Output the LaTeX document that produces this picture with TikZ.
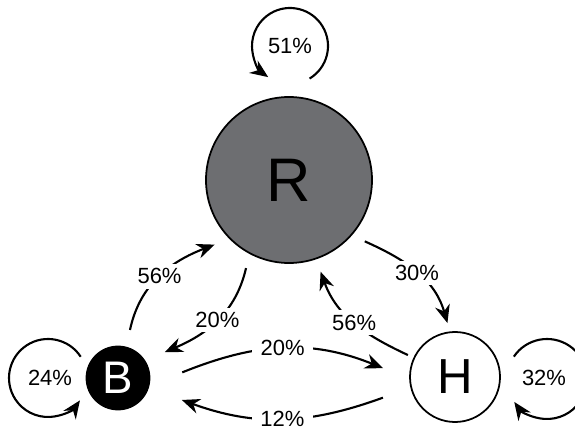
\documentclass[tikz,border=0pt]{standalone}
\usepackage{fontspec}
\setmainfont{Liberation Sans}
\usetikzlibrary{arrows.meta,calc}
\definecolor{stgray}{HTML}{6D6E71}

\begin{document}
\begin{tikzpicture}[
  state/.style={circle,draw=black,line width=1pt,inner sep=0pt},
  pct/.style={fill=white,inner xsep=5pt,inner ysep=2.5pt,font=\fontsize{12.5}{14}\selectfont},
  edge/.style={line width=1.2pt,-{Stealth[length=3.6mm,width=3mm]}}
]
\useasboundingbox (0,0) rectangle (11.5,8.58);

% ---- States -------------------------------------------------
\node[state,fill=stgray,minimum size=3.32cm,font=\fontsize{35}{36}\selectfont] (R) at (5.78,4.98) {R};
\node[state,fill=black,text=white,minimum size=1.26cm,font=\fontsize{26}{28}\selectfont] (B) at (2.36,1.02) {B};
\node[state,fill=white,minimum size=1.80cm,font=\fontsize{28}{30}\selectfont] (H) at (9.10,1.04) {H};

% ---- Self loops ---------------------------------------------
\node[pct] (l51) at (5.80,7.66) {51\%};
\draw[edge] ($(l51)+(-59:0.76)$) arc[start angle=-59,end angle=235,radius=0.76];

\node[pct] (l24) at (1.00,1.02) {24\%};
\draw[edge] ($(l24)+(-0.04,0)+(33:0.78)$) arc[start angle=33,end angle=325,radius=0.78];

\node[pct] (l32) at (10.88,1.02) {32\%};
\draw[edge] ($(l32)+(0.06,-0.02)+(146:0.8)$) arc[start angle=146,end angle=-145,radius=0.8];

% ---- Transitions --------------------------------------------
\draw[edge] ($(B)+(76:0.99)$) to[out=78,in=201] node[pct] {56\%} ($(R)+(221:1.97)$);
\draw[edge] ($(R)+(244:1.96)$) to[out=257,in=23] node[pct] {20\%} ($(B)+(29:1.07)$);
\draw[edge] ($(R)+(321:1.95)$) to[out=-24,in=106] node[pct] {30\%} ($(H)+(98:1.09)$);
\draw[edge] ($(H)+(155:1.04)$) to[out=155,in=290] node[pct] {56\%} ($(R)+(289:1.94)$);
\draw[edge] ($(B)+(5:1.29)$) to[out=22,in=158] node[pct] {20\%} ($(H)+(173:1.45)$);
\draw[edge] ($(H)+(196:1.50)$) to[out=200,in=340] node[pct] {12\%} ($(B)+(341:1.35)$);

\end{tikzpicture}
\end{document}
